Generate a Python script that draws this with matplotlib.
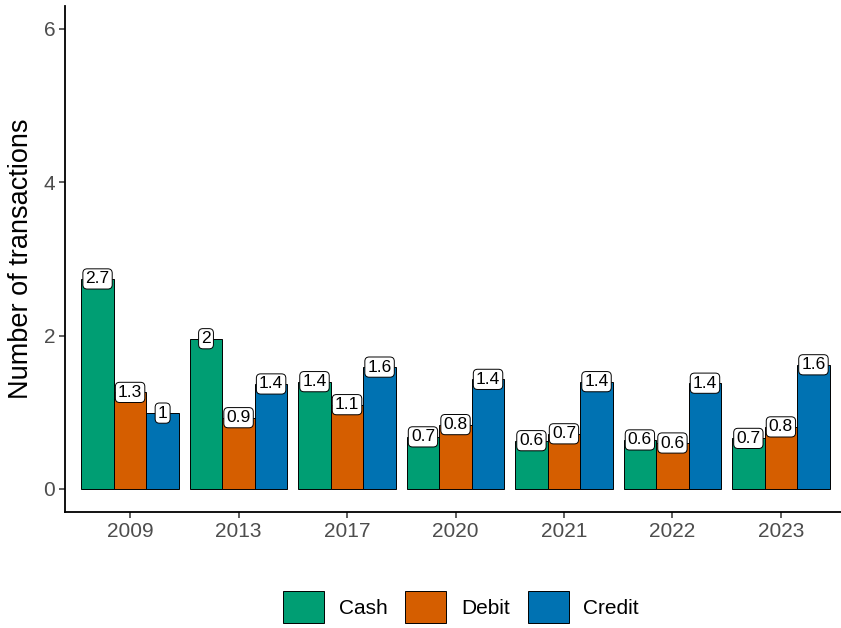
import numpy as np
import matplotlib
matplotlib.use('Agg')
import matplotlib.pyplot as plt
from matplotlib.patches import Patch

plt.rcParams['font.family'] = ['Liberation Sans', 'DejaVu Sans']

years = ['2009', '2013', '2017', '2020', '2021', '2022', '2023']
methods = ['Cash', 'Debit', 'Credit']
cash = [2.74, 1.96, 1.40, 0.68, 0.63, 0.64, 0.66]
debit = [1.26, 0.93, 1.10, 0.84, 0.72, 0.60, 0.81]
credit = [0.99, 1.37, 1.59, 1.43, 1.40, 1.38, 1.62]
colors = ['#009E73', '#D55E00', '#0072B2']


def fmt(v):
    return '%g' % round(v, 1)


fig = plt.figure(figsize=(8.41, 6.28), dpi=100)
ax = fig.add_axes([65 / 841, 116 / 628, 781 / 841, 506 / 628])

x = np.arange(len(years))
w = 0.3
for i, (vals, col) in enumerate(zip([cash, debit, credit], colors)):
    pos = x + (i - 1) * w
    ax.bar(pos, vals, width=w, color=col, edgecolor='black', linewidth=0.7)
    for px, v in zip(pos, vals):
        ax.text(px, v, fmt(v), ha='center', va='center', fontsize=12.5,
                bbox=dict(boxstyle='round,pad=0.15,rounding_size=0.25',
                          fc='white', ec='black', lw=0.7))

ax.set_xlim(-0.6, 6.6)
ax.set_ylim(-0.3, 6.3)
ax.set_xticks(x)
ax.set_xticklabels(years)
ax.set_yticks([0, 2, 4, 6])
ax.tick_params(labelsize=15, labelcolor='#4D4D4D', length=4, width=1.1,
               color='#333333', pad=3)
for s in ['top', 'right']:
    ax.spines[s].set_visible(False)
for s in ['left', 'bottom']:
    ax.spines[s].set_linewidth(1.3)
ax.set_ylabel('Number of transactions', fontsize=19.5, labelpad=7)

handles = [Patch(facecolor=c, edgecolor='black', linewidth=0.7) for c in colors]
fig.legend(handles, methods, loc='center', bbox_to_anchor=(461 / 841, 1 - 607 / 628),
           ncol=3, frameon=False, fontsize=15, handlelength=1.95, handleheight=1.95,
           handletextpad=0.72, columnspacing=0.87)

fig.savefig('out.png', dpi=100)
